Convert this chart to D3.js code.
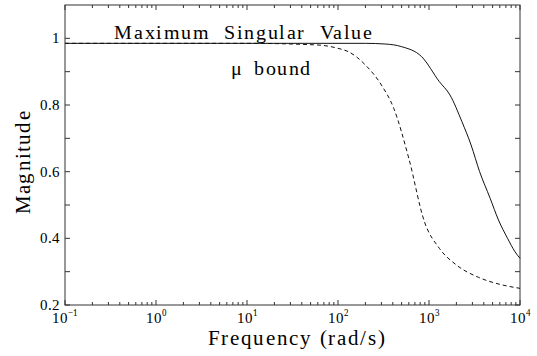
<!DOCTYPE html>
<html>
<head>
<meta charset="utf-8">
<script src="https://cdn.jsdelivr.net/npm/d3@7"></script>
<style>
  @font-face {
    font-family: "PlotSerif";
    src: local("Liberation Serif"), local("LiberationSerif"), local("LiberationSerif-Regular"),
         local("Times New Roman"), local("Tinos"), local("FreeSerif");
  }
  svg text { font-family: "PlotSerif", "Liberation Serif", "Times New Roman", "Tinos", "FreeSerif" !important; }
</style>
</head>
<body style="margin:0">
<svg id="chart" width="537" height="356"></svg>
<script>
// Frequency response: maximum singular value vs. structured singular value (mu) upper bound
const sigmaFreq = [0.1, 1, 10, 100, 200, 330, 500, 830, 1300, 1700, 2300, 2900, 3600, 4700, 5800, 7300, 8800, 10000];
const sigmaMag  = [0.985, 0.985, 0.985, 0.985, 0.985, 0.983, 0.975, 0.945, 0.87, 0.83, 0.75, 0.68, 0.60, 0.52, 0.455, 0.40, 0.36, 0.34];

const muFreq = [0.1, 1, 10, 60, 100, 130, 200, 300, 410, 600, 890, 1300, 2000, 3500, 6000, 10000];
const muMag  = [0.985, 0.985, 0.985, 0.98, 0.97, 0.96, 0.92, 0.86, 0.79, 0.64, 0.45, 0.37, 0.32, 0.283, 0.262, 0.25];

const xDecades = [-1, 0, 1, 2, 3, 4];
const yMajor = [0.2, 0.4, 0.6, 0.8, 1];
const yMajorLabels = ["0.2", "0.4", "0.6", "0.8", "1"];
const yMinor = [0.3, 0.5, 0.7, 0.9];

const svg = d3.select("#chart");
const m = { left: 65, right: 520, top: 5, bottom: 305 };

const x = d3.scaleLog().domain([0.1, 10000]).range([m.left, m.right]);
const y = d3.scaleLinear().domain([0.2, 1.1]).range([m.bottom, m.top]);

const axisColor = "#333";
const tickLen = 5;

function label(size) {
  return svg.append("text")
    .style("font-family", "'Liberation Serif'")
    .style("font-size", size + "px");
}

// Plot frame
svg.append("rect")
  .attr("x", m.left).attr("y", m.top)
  .attr("width", m.right - m.left).attr("height", m.bottom - m.top)
  .attr("fill", "none").attr("stroke", axisColor).attr("stroke-width", 1);

// Y ticks (inward, both sides)
const yTicks = yMajor.concat(yMinor);
const gy = svg.append("g").attr("stroke", axisColor).attr("stroke-width", 1);
yTicks.forEach(v => {
  gy.append("line").attr("x1", m.left).attr("x2", m.left + tickLen).attr("y1", y(v)).attr("y2", y(v));
  gy.append("line").attr("x1", m.right).attr("x2", m.right - tickLen).attr("y1", y(v)).attr("y2", y(v));
});
yMajor.forEach((v, i) => {
  label(15)
    .attr("x", m.left - 5).attr("y", y(v) + 5)
    .attr("text-anchor", "end")
    .text(yMajorLabels[i]);
});

// X ticks: decades and log minor ticks (inward, top and bottom)
const gx = svg.append("g").attr("stroke", axisColor).attr("stroke-width", 1);
xDecades.forEach((d, i) => {
  const base = Math.pow(10, d);
  const pos = x(base);
  gx.append("line").attr("x1", pos).attr("x2", pos).attr("y1", m.bottom).attr("y2", m.bottom - tickLen);
  gx.append("line").attr("x1", pos).attr("x2", pos).attr("y1", m.top).attr("y2", m.top + tickLen);
  if (i < xDecades.length - 1) {
    for (let k = 2; k <= 9; k++) {
      const p = x(base * k);
      gx.append("line").attr("x1", p).attr("x2", p).attr("y1", m.bottom).attr("y2", m.bottom - 3);
      gx.append("line").attr("x1", p).attr("x2", p).attr("y1", m.top).attr("y2", m.top + 3);
    }
  }
  const t = label(15)
    .attr("x", pos).attr("y", 323)
    .attr("text-anchor", "middle");
  t.append("tspan").text("10");
  t.append("tspan").attr("dy", -7).style("font-size", "9px")
    .text(d < 0 ? "\u2212" + Math.abs(d) : String(d));
});

// Curves
const line = d3.line().x(d => x(d[0])).y(d => y(d[1])).curve(d3.curveMonotoneX);

svg.append("path")
  .datum(sigmaFreq.map((f, i) => [f, sigmaMag[i]]))
  .attr("d", line)
  .attr("fill", "none").attr("stroke", "#111").attr("stroke-width", 1);

svg.append("path")
  .datum(muFreq.map((f, i) => [f, muMag[i]]))
  .attr("d", line)
  .attr("fill", "none").attr("stroke", "#111").attr("stroke-width", 1)
  .attr("stroke-dasharray", "4,3");

// Curve labels
label(20)
  .attr("x", 244).attr("y", 39)
  .attr("text-anchor", "middle")
  .style("letter-spacing", "1.6px")
  .style("word-spacing", "7px")
  .text("Maximum Singular Value");

label(20)
  .attr("x", 271).attr("y", 75)
  .attr("text-anchor", "middle")
  .style("letter-spacing", "1.4px")
  .style("word-spacing", "5px")
  .text("\u03bc bound");

// Axis titles
label(21)
  .attr("transform", "translate(30,162) rotate(-90)")
  .attr("text-anchor", "middle")
  .style("letter-spacing", "1.2px")
  .text("Magnitude");

label(21)
  .attr("x", 297).attr("y", 345)
  .attr("text-anchor", "middle")
  .style("letter-spacing", "1.7px")
  .text("Frequency (rad/s)");
</script>
</body>
</html>
